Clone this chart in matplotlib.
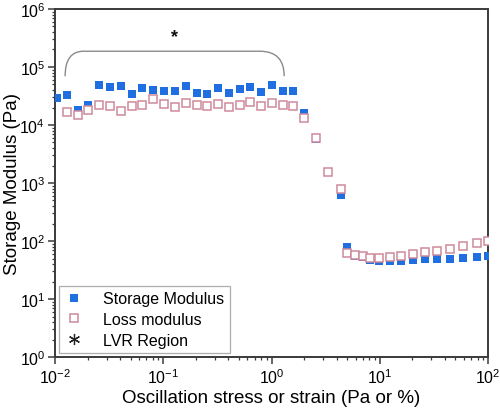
import numpy as np
import matplotlib
matplotlib.use("Agg")
import matplotlib.pyplot as plt
from matplotlib.path import Path
from matplotlib.patches import PathPatch

plt.rcParams['font.family'] = ['Liberation Sans', 'DejaVu Sans']

# oscillation stress / strain (Pa or %)
stress = [0.0105, 0.0128, 0.0162, 0.0203, 0.0257, 0.0322, 0.0405, 0.0511, 0.0641, 0.0809,
          0.1017, 0.1284, 0.1612, 0.2037, 0.2553, 0.3206, 0.4046, 0.508, 0.637, 0.800,
          1.01, 1.27, 1.59, 2.01, 2.56, 3.30, 4.36, 5.0, 5.91, 6.96,
          8.13, 9.84, 12.4, 15.7, 20.1, 26.2, 33.8, 44.6, 59.2, 79.1, 100.0]

storage = [28800, 32900, 18400, 22100, 49500, 45700, 46500, 33800, 43400, 40600,
           39000, 39000, 46500, 35600, 34600, 42900, 35200, 41300, 44700, 36600,
           48900, 38500, 38100, 16100, 5800, 1520, 621, 77.8, 55.1, 53.0,
           47.6, 45.7, 45.7, 45.2, 46.5, 48.3, 48.3, 49.5, 50.9, 53.6, 55.8]

loss = [np.nan, 16600, 15100, 18400, 22400, 21300, 17600, 21300, 22400, 28100,
        23000, 20400, 23700, 21900, 21300, 22700, 20400, 21900, 24600, 21300,
        23700, 22100, 21000, 13200, 5970, 1570, 789, 62.1, 58.1, 54.5,
        50.9, 50.9, 53.6, 55.8, 59.7, 63.9, 68.0, 73.6, 83.0, 91.3, 100.0]

# LVR bracket span
lvr_x = [0.0124, 0.0183, 0.783, 1.31]
lvr_y = [69200, 186600]
lvr_label_pos = (0.128, 330000)


def main():
    fig = plt.figure(figsize=(5.0, 4.14), dpi=100)
    ax = fig.add_axes([0.11, 0.135, 0.866, 0.841])

    ax.plot(stress, storage, 's', color='#1f6fe0', markersize=5.8,
            markeredgewidth=0, label='Storage Modulus', zorder=3)
    ax.plot(stress, loss, 's', markerfacecolor='white', markeredgecolor='#cf8a9b',
            markersize=5.4, markeredgewidth=1.1, label='Loss modulus', zorder=4)
    ax.plot([], [], linestyle='none', marker=(6, 2, 0), color='#222222',
            markersize=8, markeredgewidth=0.9, label='LVR Region')

    # bracket over the LVR region
    x0, x0b, x1b, x1 = lvr_x
    ylo, yhi = lvr_y
    verts = [(x0, ylo), (x0, yhi), (x0b, yhi), (x1b, yhi), (x1, yhi), (x1, ylo)]
    codes = [Path.MOVETO, Path.CURVE3, Path.CURVE3, Path.LINETO, Path.CURVE3, Path.CURVE3]
    ax.add_patch(PathPatch(Path(verts, codes), facecolor='none', edgecolor='#8a8a8a',
                           linewidth=1.0, transform=ax.transData, zorder=2))
    ax.text(lvr_label_pos[0], lvr_label_pos[1], '*', ha='center', va='center',
            fontsize=13, fontweight='bold', color='#111111')

    ax.set_xscale('log')
    ax.set_yscale('log')
    ax.set_xlim(1e-2, 1e2)
    ax.set_ylim(1e0, 1e6)

    ax.set_xlabel('Oscillation stress or strain (Pa or %)', fontsize=13.5)
    ax.set_ylabel('Storage Modulus (Pa)', fontsize=13.5)
    ax.xaxis.set_label_coords(0.5, -0.093)
    ax.yaxis.set_label_coords(-0.078, 0.5)

    for s in ax.spines.values():
        s.set_linewidth(1.4)
        s.set_color('#3a3a3a')
    ax.tick_params(which='major', direction='out', length=5, width=1.1,
                   labelsize=11.5, color='#3a3a3a', pad=2)
    ax.tick_params(which='minor', direction='out', length=2.5, width=0.9, color='#3a3a3a')

    leg = ax.legend(loc='lower left', fontsize=11.5, frameon=True, fancybox=False,
                    borderaxespad=0.25, handletextpad=1.2, labelspacing=0.35,
                    borderpad=0.35, handlelength=1.2)
    leg.get_frame().set_edgecolor('#999999')
    leg.get_frame().set_linewidth(0.9)

    fig.savefig('out.png', dpi=100)


if __name__ == "__main__":
    main()
